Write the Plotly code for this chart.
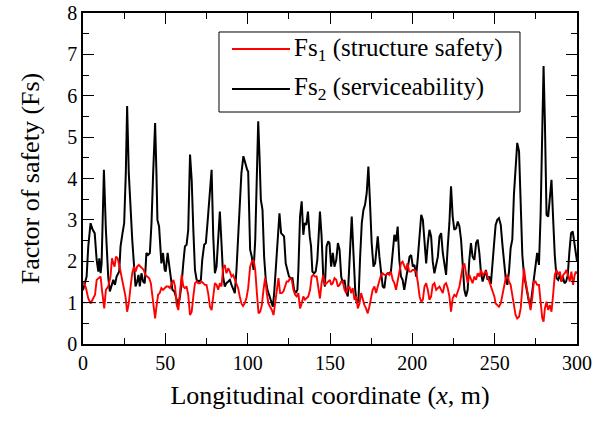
import plotly.graph_objects as go

# ---------------- data ----------------
x_fs2 = [0.0, 0.6, 2.2, 3.2, 4.6, 5.9, 7.1, 8.3, 9.3, 9.9, 10.7, 11.3, 12.7, 13.9, 15.3, 16.3, 17.4, 18.4, 19.4, 20.4,
         22.0, 22.8, 24.0, 25.0, 26.0, 26.8, 27.8, 28.9, 29.9, 30.9, 31.9, 32.9, 33.7, 34.5, 35.5, 36.5, 37.5, 38.5, 39.5, 40.6,
         41.6, 42.6, 43.8, 44.6, 45.2, 46.2, 47.6, 48.6, 49.6, 50.2, 51.4, 52.2, 53.4, 54.3, 55.5, 56.7, 57.9, 58.9, 59.9, 60.9,
         61.9, 62.9, 63.9, 65.0, 66.0, 67.0, 68.0, 69.0, 70.4, 71.6, 72.4, 73.6, 74.6, 75.6, 76.7, 78.1, 79.1, 80.1, 81.1, 82.1,
         83.1, 84.1, 85.1, 86.1, 87.1, 88.2, 89.2, 90.2, 91.2, 92.2, 93.2, 94.2, 95.2, 96.2, 97.4, 98.6, 99.7, 100.3, 100.9, 101.5,
         102.5, 103.6, 104.6, 105.6, 106.4, 107.2, 108.0, 109.0, 110.0, 111.0, 112.0, 113.0, 114.0, 115.3, 116.1, 117.1, 118.1, 119.3, 120.3, 121.3,
         122.1, 123.1, 124.1, 125.1, 126.2, 127.2, 128.2, 129.2, 130.2, 130.8, 131.8, 132.8, 133.8, 134.6, 135.6, 136.6, 137.7, 138.5, 139.3, 140.3,
         141.3, 142.3, 143.1, 143.9, 144.9, 145.9, 146.9, 147.9, 148.9, 149.7, 150.7, 151.7, 152.7, 153.8, 154.8, 155.8, 156.8, 157.8, 158.8, 159.8,
         160.8, 161.8, 162.4, 163.2, 164.2, 165.3, 166.3, 167.3, 168.3, 169.3, 170.3, 171.3, 172.3, 173.3, 174.3, 175.3, 176.4, 177.4, 178.0, 179.0,
         180.0, 181.0, 182.0, 183.0, 184.0, 185.0, 186.0, 187.0, 188.1, 189.1, 190.1, 191.1, 192.1, 193.1, 194.1, 195.1, 196.1, 197.1, 198.3, 199.3,
         200.3, 201.3, 202.3, 203.4, 204.4, 205.4, 206.4, 207.4, 208.4, 209.4, 210.4, 211.4, 212.4, 213.4, 214.5, 215.5, 216.5, 217.5, 218.5, 219.5,
         220.5, 221.5, 222.5, 223.5, 224.5, 225.5, 226.6, 227.6, 228.6, 229.6, 230.6, 231.6, 232.6, 233.6, 234.6, 235.6, 236.6, 237.7, 238.7, 239.7,
         240.7, 241.7, 242.7, 243.7, 244.7, 245.7, 246.7, 247.7, 248.6, 249.6, 250.6, 251.6, 252.6, 253.7, 254.7, 255.7, 256.7, 257.7, 258.7, 259.7,
         260.7, 261.7, 262.7, 263.7, 264.8, 265.8, 266.8, 267.8, 268.8, 269.8, 270.8, 271.8, 272.8, 273.8, 274.8, 275.8, 276.9, 277.9, 278.9, 279.7,
         280.5, 281.5, 282.5, 283.5, 284.5, 285.5, 286.5, 287.6, 288.6, 289.6, 290.6, 291.4, 292.4, 293.4, 294.4, 295.4, 296.4, 297.4, 298.4, 299.3,
         300.0]
fs2 = [1.30, 1.40, 1.63, 2.36, 2.92, 2.76, 2.68, 2.03, 1.75, 2.07, 1.71, 1.95, 4.21, 2.76, 1.63, 1.27, 1.39, 1.55, 1.43, 1.63,
       1.75, 2.36, 2.68, 2.92, 4.13, 5.75, 4.13, 3.08, 2.52, 1.95, 1.39, 1.51, 1.67, 1.39, 1.71, 1.51, 1.47, 2.20, 2.15, 2.20,
       2.92, 4.13, 5.34, 4.13, 3.00, 2.84, 1.95, 2.20, 1.79, 1.75, 2.20, 1.95, 1.55, 1.31, 1.27, 1.10, 0.94, 1.15, 1.47, 1.95,
       2.36, 2.40, 2.76, 4.58, 3.97, 2.76, 1.79, 1.55, 1.51, 1.55, 2.03, 2.40, 2.44, 2.92, 3.57, 4.21, 2.60, 1.71, 1.87, 2.44,
       3.20, 2.44, 1.63, 1.39, 1.47, 1.51, 1.55, 1.43, 1.31, 1.23, 1.79, 2.60, 3.49, 4.13, 4.54, 4.35, 4.21, 4.17, 3.08, 2.28,
       2.11, 1.79, 2.52, 3.89, 5.38, 4.54, 3.49, 3.24, 2.11, 1.55, 1.31, 1.19, 1.07, 0.90, 1.23, 1.87, 2.60, 3.16, 2.68, 2.64,
       2.60, 1.95, 1.79, 1.63, 1.59, 1.59, 1.31, 1.23, 1.31, 1.79, 3.08, 3.45, 2.64, 2.92, 2.88, 3.20, 2.60, 2.36, 1.75, 1.71,
       1.75, 2.03, 2.60, 3.20, 2.60, 1.63, 1.39, 2.36, 2.48, 2.44, 1.87, 2.20, 1.87, 2.03, 2.44, 2.28, 1.63, 1.47, 1.55, 1.27,
       1.15, 1.79, 2.44, 3.08, 2.36, 1.31, 0.98, 1.07, 2.11, 2.92, 3.24, 3.37, 3.65, 4.29, 3.41, 2.44, 1.87, 1.95, 2.20, 2.60,
       2.11, 1.71, 1.39, 1.35, 1.67, 1.71, 1.71, 1.75, 2.28, 2.64, 2.48, 2.84, 2.03, 1.63, 1.55, 1.31, 1.55, 1.79, 2.11, 2.15,
       1.87, 1.91, 1.63, 2.11, 2.76, 3.12, 3.00, 2.44, 1.95, 2.44, 2.76, 2.60, 1.99, 1.71, 1.95, 2.11, 2.60, 2.68, 2.20, 1.87,
       1.67, 2.36, 2.92, 3.81, 3.08, 2.76, 2.80, 2.96, 2.84, 2.52, 1.87, 1.31, 1.15, 1.31, 2.03, 2.44, 2.11, 2.03, 2.44, 2.52,
       2.20, 1.71, 1.51, 1.63, 1.79, 1.55, 1.63, 1.45, 1.83, 2.40, 2.88, 3.00, 3.04, 2.88, 2.40, 1.91, 1.59, 1.43, 1.75, 2.32,
       2.52, 3.61, 4.33, 4.86, 4.66, 3.45, 2.15, 1.67, 1.43, 1.19, 1.02, 0.94, 1.27, 1.67, 1.99, 2.20, 1.91, 3.12, 5.14, 6.72,
       5.38, 3.12, 3.08, 3.53, 3.97, 3.04, 2.15, 1.59, 1.55, 1.67, 1.51, 1.63, 1.47, 1.51, 1.67, 2.24, 2.68, 2.72, 2.40, 2.11,
       2.00]

x_fs1 = [0.0, 0.6, 1.8, 3.2, 4.6, 5.9, 7.3, 8.3, 9.3, 10.7, 11.5, 12.3, 12.9, 13.9, 15.3, 16.7, 17.6, 18.4, 19.2, 20.0,
         21.0, 22.0, 22.8, 23.8, 24.8, 25.8, 26.8, 27.8, 28.9, 29.9, 30.9, 31.9, 32.9, 33.9, 34.9, 35.9, 36.9, 37.9, 39.1, 40.2,
         41.2, 42.2, 43.0, 43.8, 44.6, 45.6, 46.6, 47.6, 48.6, 49.6, 50.6, 51.8, 52.8, 53.9, 54.9, 55.9, 56.9, 57.9, 58.9, 59.9,
         60.9, 61.9, 62.9, 63.9, 65.0, 66.0, 67.0, 68.0, 69.0, 70.0, 71.0, 72.0, 73.0, 74.0, 75.0, 76.0, 77.1, 78.1, 79.1, 80.1,
         81.1, 82.1, 83.1, 84.1, 85.1, 86.1, 87.1, 88.2, 89.2, 90.2, 91.2, 92.2, 93.2, 94.2, 95.2, 96.2, 97.2, 98.2, 99.3, 100.3,
         101.5, 102.5, 103.6, 104.6, 105.6, 106.6, 107.6, 108.6, 109.6, 110.6, 111.6, 112.6, 113.6, 114.7, 115.7, 116.7, 117.7, 118.7, 119.7, 120.7,
         121.7, 122.7, 123.7, 124.7, 125.7, 126.8, 127.8, 128.8, 129.8, 130.8, 131.8, 132.8, 133.8, 134.8, 135.8, 136.8, 137.9, 138.9, 139.9, 140.9,
         141.9, 142.9, 143.9, 144.9, 145.9, 146.9, 147.9, 148.9, 150.0, 150.7, 151.7, 152.7, 153.8, 154.8, 155.8, 156.8, 157.8, 158.8, 159.8, 160.8,
         161.8, 162.8, 163.8, 164.9, 165.9, 166.9, 167.9, 168.9, 169.9, 170.9, 171.9, 172.9, 173.9, 174.9, 175.9, 177.0, 178.0, 179.0, 180.0, 181.0,
         182.0, 183.0, 184.0, 185.0, 186.0, 187.0, 188.1, 189.1, 190.1, 191.1, 192.1, 193.1, 194.1, 195.1, 196.1, 197.1, 198.1, 199.2, 200.2, 201.3,
         202.3, 203.4, 204.4, 205.4, 206.4, 207.4, 208.4, 209.4, 210.4, 211.4, 212.4, 213.4, 214.5, 215.5, 216.5, 217.5, 218.5, 219.5, 220.5, 221.5,
         222.5, 223.5, 224.5, 225.5, 226.6, 227.6, 228.6, 229.6, 230.6, 231.6, 232.6, 233.6, 234.6, 235.6, 236.6, 237.7, 238.7, 239.7, 240.7, 241.7,
         242.7, 243.7, 244.7, 245.7, 246.7, 247.7, 248.8, 249.8, 250.6, 251.6, 252.6, 253.7, 254.7, 255.7, 256.7, 257.7, 258.7, 259.7, 260.7, 261.7,
         262.7, 263.7, 264.8, 265.8, 266.8, 267.8, 268.8, 269.8, 270.8, 271.8, 272.8, 273.8, 274.8, 275.8, 276.9, 277.9, 278.9, 279.7, 280.5, 281.5,
         282.5, 283.5, 284.5, 285.5, 286.5, 287.6, 288.6, 289.6, 290.6, 291.6, 292.6, 293.6, 294.6, 295.6, 296.6, 297.6, 298.6, 299.3, 300.0]
fs1 = [1.50, 1.48, 1.35, 1.10, 0.98, 1.10, 1.19, 1.55, 1.59, 1.63, 1.31, 0.98, 0.86, 1.31, 1.39, 1.63, 2.07, 1.95, 1.87, 2.11,
       2.07, 1.91, 1.75, 1.55, 1.39, 1.15, 0.78, 0.98, 1.39, 1.71, 1.87, 1.75, 1.87, 1.91, 1.87, 1.83, 1.79, 1.67, 1.63, 1.59,
       1.47, 1.10, 0.82, 0.62, 0.90, 1.19, 1.23, 1.35, 1.31, 1.35, 1.39, 1.39, 1.35, 1.47, 1.55, 1.39, 0.94, 0.82, 1.23, 1.67,
       1.39, 1.35, 1.39, 1.19, 0.70, 0.78, 1.15, 1.47, 1.51, 1.47, 1.47, 1.51, 1.47, 1.43, 1.43, 1.23, 0.90, 0.82, 1.15, 1.47,
       1.43, 1.31, 1.47, 1.39, 1.83, 1.91, 1.71, 1.83, 1.75, 1.63, 1.67, 1.55, 1.47, 1.35, 1.15, 0.98, 0.92, 0.98, 1.12, 1.35,
       1.87, 1.99, 2.03, 1.79, 1.23, 0.74, 0.78, 0.94, 1.31, 1.59, 1.23, 0.98, 0.90, 0.82, 0.70, 1.02, 1.39, 1.59, 1.23, 1.23,
       1.27, 1.39, 1.51, 1.51, 1.59, 1.55, 1.31, 1.19, 1.15, 1.23, 0.86, 0.98, 1.15, 1.07, 1.10, 1.15, 1.31, 1.63, 1.67, 1.63,
       1.63, 1.39, 1.10, 1.47, 1.67, 1.43, 1.47, 1.51, 1.55, 1.43, 1.47, 1.59, 1.55, 1.39, 1.43, 1.51, 1.51, 1.31, 1.23, 1.35,
       1.39, 1.23, 1.35, 1.07, 1.15, 0.86, 0.98, 1.23, 1.07, 0.94, 0.86, 0.74, 0.90, 1.15, 1.31, 1.39, 1.23, 1.39, 1.55, 1.67,
       1.71, 1.67, 1.67, 1.71, 1.67, 1.75, 1.55, 1.47, 1.31, 1.55, 1.79, 1.95, 1.99, 1.87, 1.79, 1.95, 1.75, 1.75, 1.79, 1.79,
       1.75, 1.47, 1.15, 1.02, 1.07, 1.39, 1.47, 1.31, 1.07, 1.15, 1.43, 1.47, 1.31, 1.35, 1.39, 1.31, 1.23, 1.43, 1.47, 1.35,
       1.15, 0.78, 1.10, 1.19, 1.15, 1.27, 1.39, 1.63, 1.87, 1.95, 1.75, 1.47, 1.67, 1.55, 1.47, 1.63, 1.55, 1.71, 1.63, 1.79,
       1.67, 1.71, 1.75, 1.63, 1.51, 1.39, 1.31, 1.15, 0.98, 0.94, 0.90, 0.98, 1.19, 1.43, 1.59, 1.67, 1.51, 1.43, 1.19, 0.86,
       0.70, 0.62, 0.66, 0.86, 1.35, 1.83, 1.51, 1.27, 1.02, 0.82, 1.10, 1.51, 1.51, 1.43, 1.43, 0.94, 0.62, 0.54, 0.86, 1.02,
       0.82, 0.94, 0.78, 1.19, 1.67, 1.79, 1.67, 1.75, 1.51, 1.67, 1.71, 1.79, 1.67, 1.51, 1.75, 1.43, 1.67, 1.75, 1.70]

series_names = ["Fs<sub>1</sub> (structure safety)", "Fs<sub>2</sub> (serviceability)"]
series_colors = ["#ff0000", "#000000"]
x_tick_values = [0, 50, 100, 150, 200, 250, 300]
y_tick_values = [0, 1, 2, 3, 4, 5, 6, 7, 8]
reference_fs = 1.0
x_range = [0, 300]
y_range = [0, 8]

# ---------------- figure ----------------
FONT = "Liberation Serif"

fig = go.Figure()
fig.add_trace(go.Scatter(x=x_fs2, y=fs2, mode="lines", name=series_names[1], showlegend=False,
                         line=dict(color=series_colors[1], width=2)))
fig.add_trace(go.Scatter(x=x_fs1, y=fs1, mode="lines", name=series_names[0], showlegend=False,
                         line=dict(color=series_colors[0], width=1.9)))

# dashed reference line at Fs = 1
fig.add_shape(type="line", xref="x", yref="y", x0=x_range[0], x1=x_range[1],
              y0=reference_fs, y1=reference_fs, layer="below",
              line=dict(color="black", width=1, dash="5px,3px"))

# legend box drawn by hand (paper coordinates of the plot area)
fig.add_shape(type="rect", xref="paper", yref="paper", x0=0.2753, x1=0.8846, y0=0.7009, y1=0.9426,
              line=dict(color="black", width=1), fillcolor="white", layer="above")
legend_rows_y = [0.8912, 0.7704]
for name, color, yy in zip(series_names, series_colors, legend_rows_y):
    fig.add_shape(type="line", xref="paper", yref="paper", x0=0.3016, x1=0.4190, y0=yy, y1=yy,
                  line=dict(color=color, width=2), layer="above")
    fig.add_annotation(xref="paper", yref="paper", x=0.4231, y=yy, xanchor="left", yanchor="middle",
                       text=name, showarrow=False,
                       font=dict(family=FONT, size=25, color="black"))

axis_common = dict(
    showgrid=False, zeroline=False, showline=True, linecolor="black", linewidth=1.5,
    mirror="ticks", ticks="inside", ticklen=11, tickwidth=1.2, tickcolor="black",
    tickfont=dict(family=FONT, size=20, color="black"), automargin=False,
)

fig.update_xaxes(range=x_range, tickvals=x_tick_values,
                 minor=dict(dtick=25, ticklen=6, ticks="inside", tickcolor="black", tickwidth=1.2),
                 title=dict(text="Longitudinal coordinate (<i>x</i>, m)",
                            font=dict(family=FONT, size=26, color="black"), standoff=13),
                 **axis_common)
fig.update_yaxes(range=y_range, tickvals=y_tick_values,
                 minor=dict(dtick=0.5, ticklen=6, ticks="inside", tickcolor="black", tickwidth=1.2),
                 title=dict(text="Factor of safety (Fs)",
                            font=dict(family=FONT, size=26, color="black"), standoff=20),
                 **axis_common)

fig.update_layout(
    width=600, height=421,
    margin=dict(l=83, r=23, t=13, b=77, autoexpand=False),
    paper_bgcolor="white", plot_bgcolor="white",
    font=dict(family=FONT, color="black"),
    showlegend=False,
)

# remove the default 8px page margin so the figure sits at the window's top-left corner
fig.write_html("out.html", config={"displayModeBar": False},
               post_script="document.body.style.margin='0';")
